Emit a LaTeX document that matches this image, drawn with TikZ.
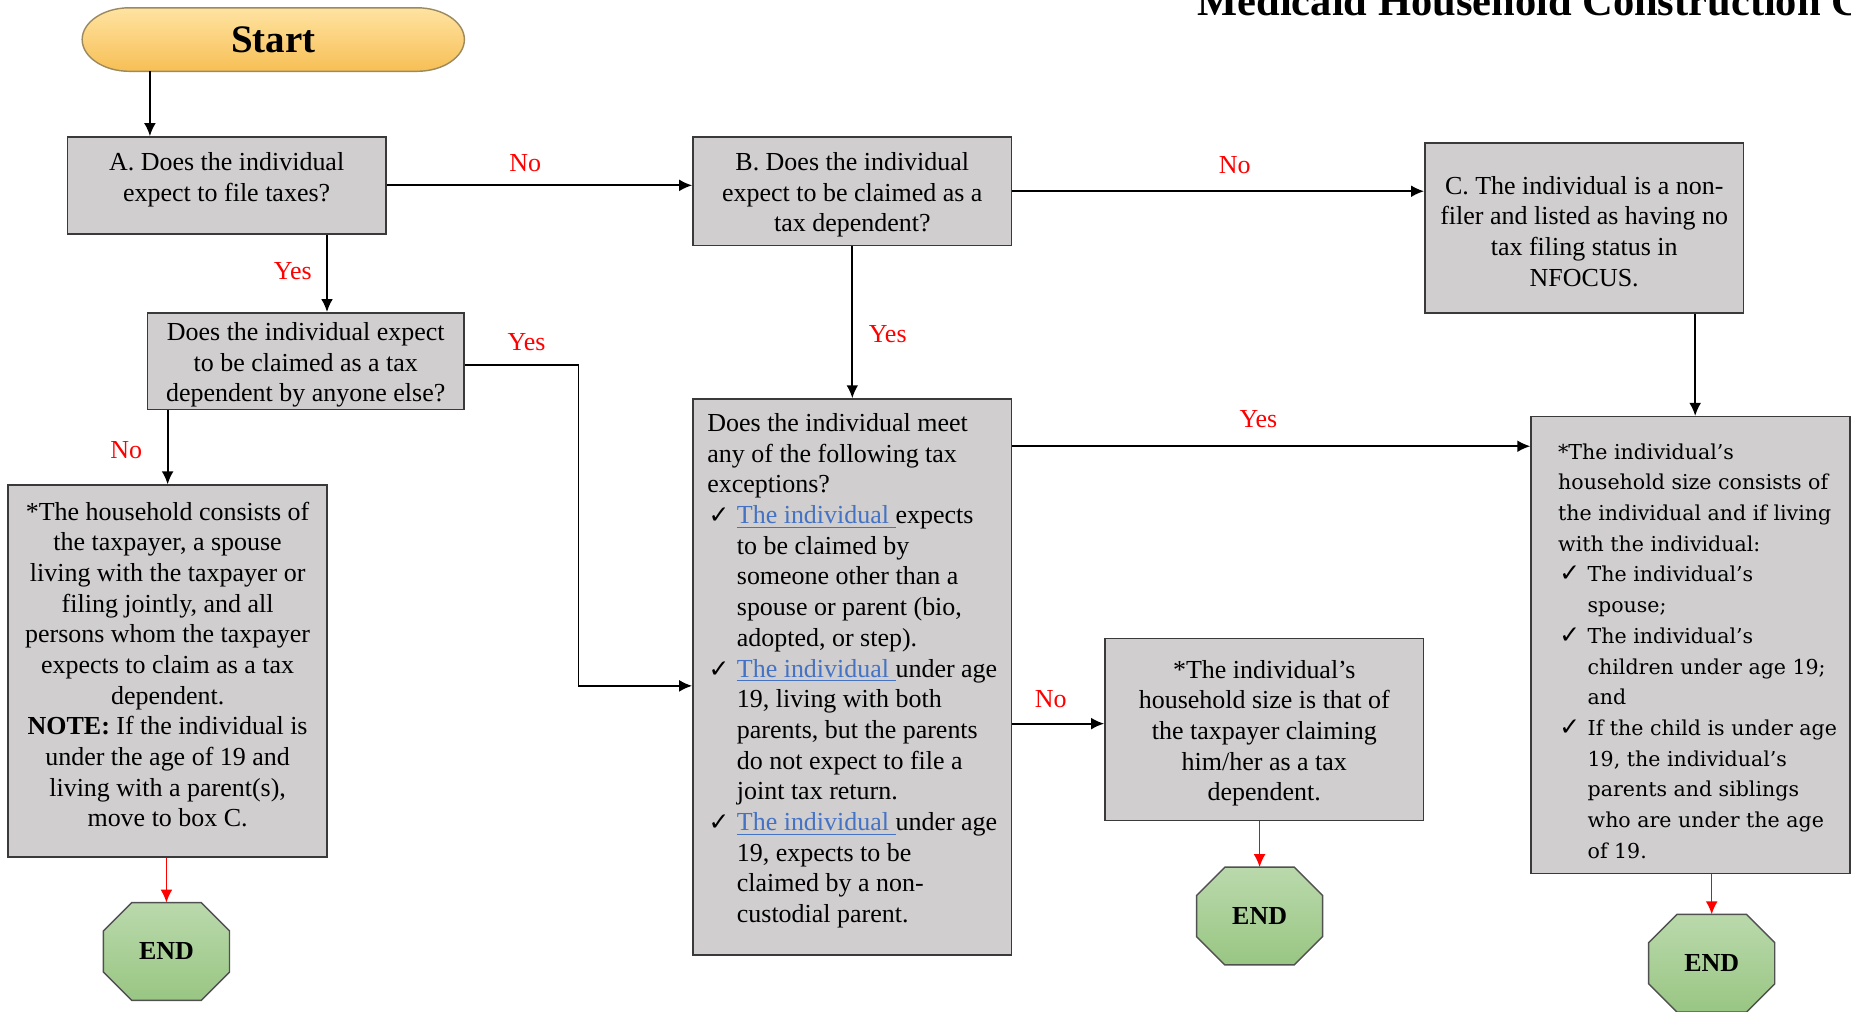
\documentclass[tikz,border=0pt]{standalone}
\usepackage{fontspec}
\setmainfont{Liberation Serif}
\newfontfamily\dvserif{DejaVu Serif}
\newfontfamily\dvsans{DejaVu Sans}
\usetikzlibrary{arrows.meta,calc}
\pgfdeclarelayer{background}
\pgfsetlayers{background,main}
\definecolor{boxgray}{HTML}{D0CECE}
\definecolor{boxline}{HTML}{3A3A3A}
\definecolor{lblred}{HTML}{FF0000}
\definecolor{linkblue}{HTML}{4472C4}
\definecolor{startA}{HTML}{FFE3A2}
\definecolor{startB}{HTML}{F7BF55}
\definecolor{startline}{HTML}{9C8A5E}
\definecolor{endA}{HTML}{BAD9AC}
\definecolor{endB}{HTML}{99C683}
\definecolor{endline}{HTML}{505050}
\newcommand\ck{\makebox[12.5pt][l]{\hspace{0.5pt}{\dvsans\fontsize{10.5}{13}\selectfont ✓}}}
\newcommand\ind{\hspace*{12.5pt}}
\newcommand\ip{\hspace*{6pt}}
\newcommand\lnk{\textcolor{linkblue}{\underline{The individual\ }}}
\tikzset{
  box/.style={draw=boxline, fill=boxgray, line width=0.65pt, inner sep=0pt,
    font=\fontsize{11}{13}\selectfont, align=center, minimum width=135pt, text depth=0pt},
  arr/.style={-{Latex[length=5.5pt,width=5pt]}, line width=0.8pt, black},
  redarr/.style={-{Latex[length=5.5pt,width=5pt]}, line width=0.65pt, lblred},
  lbl/.style={text=lblred, font=\fontsize{11}{13}\selectfont, inner sep=0pt},
  endnode/.style={minimum width=53pt, minimum height=41pt, inner sep=0pt,
    font=\bfseries\fontsize{11}{13}\selectfont},
  endshape/.style={top color=endA, bottom color=endB, draw=endline, line width=0.6pt},
  startshape/.style={top color=startA, bottom color=startB, draw=startline, line width=0.6pt}
}
\begin{document}
\begin{tikzpicture}[x=0.5pt,y=-0.5pt]
\useasboundingbox (0,0) rectangle (1568,857);
\begin{pgfonlayer}{background}
\fill[white] (0,0) rectangle (1568,857);
\end{pgfonlayer}

% title (cut by the page edge)
\node[anchor=base west, inner sep=0pt, font=\bfseries\fontsize{18}{20}\selectfont] (title) at (1014,13) {Medicaid Household Construction Chart};

% start
\node[minimum width=161.5pt, minimum height=26.5pt, inner sep=0pt,
  font=\bfseries\fontsize{16.5}{18}\selectfont] (start) at (231.5,33.5) {Start};

% boxes
\node[box, minimum height=41pt, text height=13.5pt] (A) at (192,157)
  {A. Does the individual\\expect to file taxes?};
\node[box, minimum height=46pt, text height=34.5pt] (B) at (722,162)
  {B. Does the individual\\expect to be claimed as a\\tax dependent?};
\node[box, minimum height=72pt, text height=49.5pt] (C) at (1342,193)
  {C. The individual is a non-\\filer and listed as having no\\tax filing status in\\NFOCUS.};
\node[box, minimum width=134pt, minimum height=41pt, text height=34.5pt] (D) at (259,306)
  {Does the individual expect\\to be claimed as a tax\\dependent by anyone else?};
\node[box, minimum height=157.5pt, text height=132pt] (G) at (142,568.5)
  {*The household consists of\\the taxpayer, a spouse\\living with the taxpayer or\\filing jointly, and all\\persons whom the taxpayer\\expects to claim as a tax\\dependent.\\\textbf{NOTE:} If the individual is\\under the age of 19 and\\living with a parent(s),\\move to box C.};
\node[box, align=left, minimum height=235.5pt, text height=208pt] (F) at (722,573.5)
  {Does the individual meet\\
   any of the following tax\\
   exceptions?\\
   \ck\lnk expects\\
   \ind to be claimed by\\
   \ind someone other than a\\
   \ind spouse or parent (bio,\\
   \ind adopted, or step).\\
   \ck\lnk under age\\
   \ind 19, living with both\\
   \ind parents, but the parents\\
   \ind do not expect to file a\\
   \ind joint tax return.\\
   \ck\lnk under age\\
   \ind 19, expects to be\\
   \ind claimed by a non-\\
   \ind custodial parent.};
\node[box, minimum height=77pt, text height=60.5pt] (H) at (1071,618)
  {*The individual’s\\household size is that of\\the taxpayer claiming\\him/her as a tax\\dependent.};
\node[box, align=left, minimum height=193.5pt, text height=180.5pt,
  font=\dvserif\fontsize{8.7}{13}\selectfont] (I) at (1432,546.5)
  {\ip*The individual’s\\
   \ip household size consists of\\
   \ip the individual and if living\\
   \ip with the individual:\\
   \ip\ck The individual’s\\
   \ip\ind spouse;\\
   \ip\ck The individual’s\\
   \ip\ind children under age 19;\\
   \ip\ind and\\
   \ip\ck If the child is under age\\
   \ip\ind 19, the individual’s\\
   \ip\ind parents and siblings\\
   \ip\ind who are under the age\\
   \ip\ind of 19.};

% END nodes
\node[endnode] (e1) at (141,806) {END};
\node[endnode] (e2) at (1067,776) {END};
\node[endnode] (e3) at (1450,816) {END};

\begin{pgfonlayer}{background}
\shadedraw[startshape] ([xshift=20pt]start.north west) -- ([xshift=-20pt]start.north east)
  .. controls ([xshift=-8.95pt]start.north east) and ([yshift=7.32pt]start.east) .. (start.east)
  .. controls ([yshift=-7.32pt]start.east) and ([xshift=-8.95pt]start.south east) .. ([xshift=-20pt]start.south east)
  -- ([xshift=20pt]start.south west)
  .. controls ([xshift=8.95pt]start.south west) and ([yshift=-7.32pt]start.west) .. (start.west)
  .. controls ([yshift=7.32pt]start.west) and ([xshift=8.95pt]start.north west) .. ([xshift=20pt]start.north west) -- cycle;
\foreach \n in {e1,e2,e3}{
  \shadedraw[endshape] ([xshift=12pt]\n.north west) -- ([xshift=-12pt]\n.north east)
    -- ([yshift=-12pt]\n.north east) -- ([yshift=12pt]\n.south east)
    -- ([xshift=-12pt]\n.south east) -- ([xshift=12pt]\n.south west)
    -- ([yshift=12pt]\n.south west) -- ([yshift=-12pt]\n.north west) -- cycle;
}
\end{pgfonlayer}

% helper coordinates
\coordinate (xSA) at (127,0);
\coordinate (xAD) at (277,0);
\coordinate (yDE) at (0,309);
\coordinate (xDF) at (490,0);
\coordinate (yDF) at (0,581);
\coordinate (yFH) at (0,613);
\coordinate (yFI) at (0,378);
\coordinate (xCI) at (1436,0);

% connectors
\draw[arr] (start.south -| xSA) -- (A.north -| xSA);
\draw[arr] (A.east) -- (A.east -| B.west);
\draw[arr] (B.east) -- (B.east -| C.west);
\draw[arr] (A.south -| xAD) -- (D.north -| xAD);
\draw[arr] (D.east |- yDE) -| (xDF |- yDF) -- (F.west |- yDF);
\draw[arr] (G.north |- D.south) -- (G.north);
\draw[redarr] (e1.north |- G.south) -- (e1.north);
\draw[arr] (B.south) -- (F.north);
\draw[arr] (F.east |- yFH) -- (H.west |- yFH);
\draw[redarr] (e2.north |- H.south) -- (e2.north);
\draw[arr] (F.east |- yFI) -- (I.west |- yFI);
\draw[arr] (C.south -| xCI) -- (I.north -| xCI);
\draw[redarr] (e3.north |- I.south) -- (e3.north);

% labels
\node[lbl] (lAB) at (445,138) {No};
\node[lbl] (lBC) at (1046,140) {No};
\node[lbl] (lAD) at (248,230) {Yes};
\node[lbl] (lDF) at (446,290) {Yes};
\node[lbl] (lDG) at (107,381) {No};
\node[lbl] (lBF) at (752,283) {Yes};
\node[lbl] (lFH) at (890,592) {No};
\node[lbl] (lFI) at (1066,355) {Yes};
\end{tikzpicture}
\end{document}
